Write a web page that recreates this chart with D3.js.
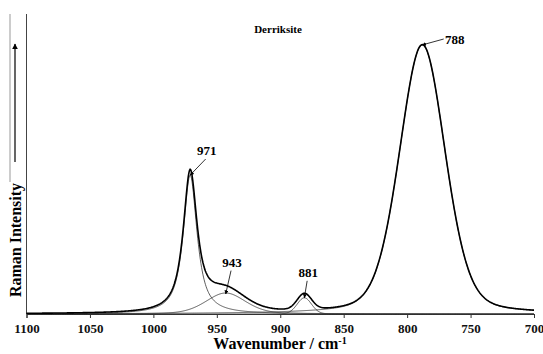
<!DOCTYPE html>
<html>
<head>
<meta charset="utf-8">
<script src="https://cdn.jsdelivr.net/npm/d3@7"></script>
<style>
  body { margin: 0; background: #fff; }
  svg text { font-family: "Liberation Serif", "Times New Roman", serif; font-weight: bold; }
</style>
</head>
<body>
<div class="svg-canvas"></div>
<script>
// Raman band fit, Derriksite
var bandLabels  = ["971", "943", "881", "788"];
var bandCentres = [971, 943, 881, 788];
var bandHeights = [0.463, 0.07, 0.054, 0.897];
var bandFwhm    = [13, 37, 13.4, 42.6];
var bandLorentz = [0.9, 0.3, 0.1, 0.25];
var xTicks = [1100, 1050, 1000, 950, 900, 850, 800, 750, 700];

// where the label text sits (wavenumber, intensity)
var labelPos = [[958, 0.53], [938, 0.158], [878, 0.124], [762.5, 0.9]];

var W = 543, H = 354;
var m = {top: 14, left: 26.5, right: 9, bottom: 40};

var svg = d3.select(".svg-canvas").append("svg")
    .attr("width", W)
    .attr("height", H);

var x = d3.scaleLinear().domain([1100, 700]).range([m.left, W - m.right]);
var y = d3.scaleLinear().domain([0, 1]).range([H - m.bottom, m.top]);

// pseudo-voigt profile of a band
function band(i, w) {
    var hw = bandFwhm[i] / 2, t = (w - bandCentres[i]) / hw;
    var L = 1 / (1 + t * t), G = Math.exp(-Math.LN2 * t * t);
    return bandHeights[i] * (bandLorentz[i] * L + (1 - bandLorentz[i]) * G);
}

var grid = d3.range(1100, 699.5, -0.5);
var line = d3.line().x(function(d){ return x(d[0]); }).y(function(d){ return y(d[1]); });

// faint frame edge on the far left
svg.append("line").attr("x1", 10).attr("x2", 10).attr("y1", 14).attr("y2", 182)
    .attr("stroke", "#999").attr("stroke-width", 1);

// y axis line, no ticks
svg.append("line").attr("x1", m.left).attr("x2", m.left)
    .attr("y1", m.top).attr("y2", y(0))
    .attr("stroke", "#444").attr("stroke-width", 1);

// x axis
var xAxis = svg.append("g").attr("transform", "translate(0," + y(0) + ")")
    .call(d3.axisBottom(x).tickValues(xTicks).tickSize(4).tickPadding(6).tickFormat(d3.format("d")));
xAxis.select(".domain").attr("stroke", "#333");
xAxis.selectAll(".tick line").attr("stroke", "#333");
xAxis.selectAll("text").attr("font-size", 13).attr("fill", "#111")
    .style("font-family", "Liberation Serif").style("font-weight", "bold");

// component bands
bandCentres.forEach(function(c, i){
    svg.append("path")
        .datum(grid.map(function(w){ return [w, band(i, w)]; }))
        .attr("d", line)
        .attr("fill", "none")
        .attr("stroke", "#333")
        .attr("stroke-width", 0.8);
});

// total spectrum
svg.append("path")
    .datum(grid.map(function(w){
        return [w, d3.sum(bandCentres, function(c, i){ return band(i, w); })];
    }))
    .attr("d", line)
    .attr("fill", "none")
    .attr("stroke", "#000")
    .attr("stroke-width", 1.6);

// arrow marker
var defs = svg.append("defs");
defs.append("marker").attr("id", "ah")
    .attr("viewBox", "0 0 10 10").attr("refX", 9).attr("refY", 5)
    .attr("markerWidth", 5).attr("markerHeight", 5).attr("orient", "auto")
    .append("path").attr("d", "M0,0L10,5L0,10z").attr("fill", "#000");

// peak labels with leader lines
bandLabels.forEach(function(t, i){
    var lx = x(labelPos[i][0]), ly = y(labelPos[i][1]);
    var px = x(bandCentres[i]), py = y(bandHeights[i]);
    if (i == 1) py += 1;
    svg.append("text").attr("x", lx).attr("y", ly)
        .attr("text-anchor", "middle").attr("font-size", 13).text(t);
    var sx, sy;
    if (i == 3) { sx = lx - 11; sy = ly - 5; }
    else { sx = lx - 1; sy = ly + 4; }
    svg.append("line").attr("x1", sx).attr("y1", sy).attr("x2", px).attr("y2", py)
        .attr("stroke", "#000").attr("stroke-width", 0.8)
        .attr("marker-end", "url(#ah)");
});

// title
svg.append("text").attr("x", 278).attr("y", 33).attr("text-anchor", "middle")
    .attr("font-size", 11).text("Derriksite");

// axis titles
var xt = svg.append("text").attr("x", 280).attr("y", 349).attr("text-anchor", "middle")
    .attr("font-size", 16);
xt.append("tspan").text("Wavenumber / cm");
xt.append("tspan").attr("dy", -5).attr("font-size", 10).text("-1");

svg.append("text").attr("transform", "translate(21,240) rotate(-90)")
    .attr("text-anchor", "middle").attr("font-size", 16).text("Raman Intensity");

svg.append("line").attr("x1", 15).attr("x2", 15).attr("y1", 162).attr("y2", 44)
    .attr("stroke", "#000").attr("stroke-width", 1.2)
    .attr("marker-end", "url(#ah)");
</script>
</body>
</html>
